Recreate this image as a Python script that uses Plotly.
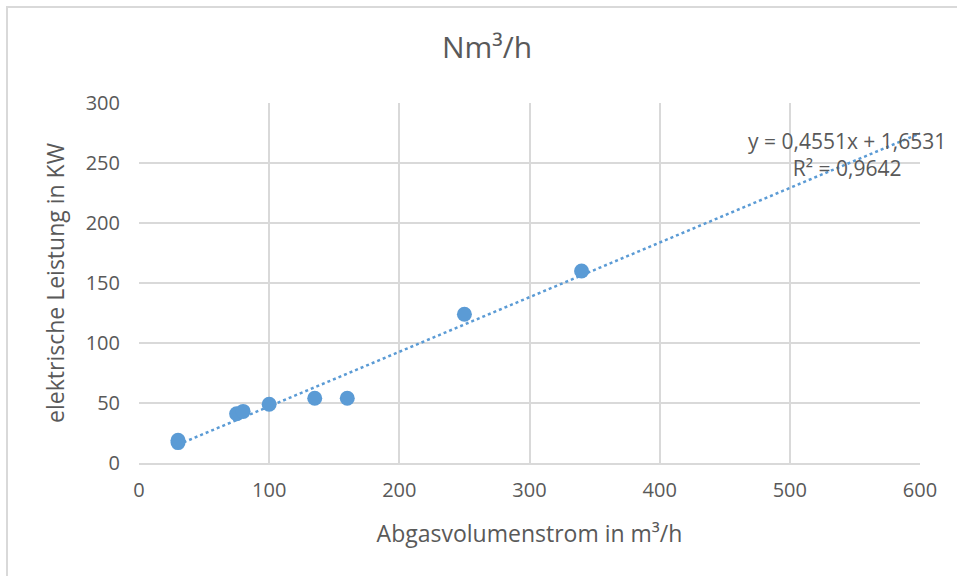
import plotly.graph_objects as go

# measured points (Abgasvolumenstrom vs. elektrische Leistung)
volumen = [30, 30, 75, 80, 100, 135, 160, 250, 340]
leistung = [17, 19, 41, 43, 49, 54, 54, 124, 160]

# linear trendline as printed on the chart
slope = 0.4551
intercept = 1.6531
trend_x = [min(volumen), 600]
trend_y = [slope * x + intercept for x in trend_x]

blue = "#5b9bd5"
grey_text = "#595959"
font = "Open Sans"

fig = go.Figure()

fig.add_trace(go.Scatter(
    x=trend_x, y=trend_y,
    mode="lines",
    line=dict(color=blue, width=2.5, dash="dot"),
    hoverinfo="skip",
))

fig.add_trace(go.Scatter(
    x=volumen, y=leistung,
    mode="markers",
    marker=dict(color=blue, size=15),
))

fig.add_annotation(
    xref="paper", yref="paper",
    x=0.9066, y=0.856,
    xanchor="center", yanchor="middle",
    text="y = 0,4551x + 1,6531<br>R² = 0,9642",
    showarrow=False, align="center",
    font=dict(family=font, size=21, color=grey_text),
)

# chart area border (only left/top edges fall inside the picture)
fig.add_shape(
    type="rect", xref="paper", yref="paper",
    x0=-0.169, x1=1.2, y0=-0.5, y1=1.2667,
    line=dict(color="#d9d9d9", width=2),
)

fig.update_layout(
    width=957, height=576,
    margin=dict(l=139, r=37, t=103, b=113),
    paper_bgcolor="white",
    plot_bgcolor="white",
    showlegend=False,
    font=dict(family=font, color=grey_text),
    title=dict(
        text="Nm³/h",
        x=0.509, xanchor="center",
        y=0.917, yanchor="middle",
        font=dict(family=font, size=30, color=grey_text),
    ),
)

fig.update_xaxes(
    range=[0, 600], dtick=100,
    showgrid=True, gridcolor="#d9d9d9", gridwidth=1.5,
    zeroline=False, showline=True, linecolor="#d9d9d9", linewidth=1.5,
    ticks="", ticklabelstandoff=8, tickfont=dict(size=20, color=grey_text),
    title=dict(text="Abgasvolumenstrom in m³/h", font=dict(size=23, color=grey_text), standoff=24),
)
fig.update_yaxes(
    range=[0, 300], dtick=50,
    showgrid=True, gridcolor="#d9d9d9", gridwidth=1.5,
    zeroline=False, showline=False,
    ticks="", ticklabelstandoff=18, tickfont=dict(size=20, color=grey_text),
    title=dict(text="elektrische Leistung in KW", font=dict(size=23, color=grey_text), standoff=14),
)

fig.write_html(
    "out.html",
    config={"displayModeBar": False},
    post_script="document.body.style.margin='0';",
)
